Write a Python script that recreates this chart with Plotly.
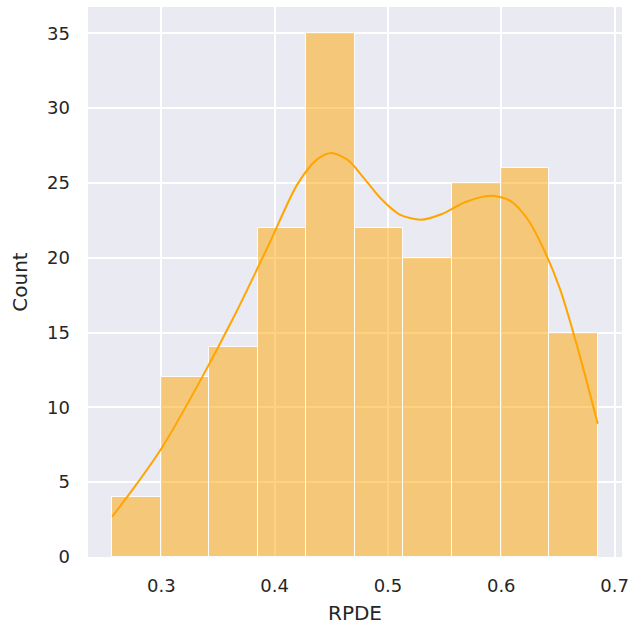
import plotly.graph_objects as go

# Histogram data (RPDE)
bin_edges = [0.2566, 0.2994, 0.3423, 0.3851, 0.4280, 0.4709, 0.5137, 0.5566, 0.5995, 0.6423, 0.6852]
counts = [4, 12, 14, 22, 35, 22, 20, 25, 26, 15]

# KDE curve (scaled to counts)
kde_x = [0.2566, 0.2770, 0.3000, 0.3330, 0.3650, 0.3950, 0.4200, 0.4380, 0.4505, 0.4650,
         0.4800, 0.4950, 0.5100, 0.5290, 0.5470, 0.5680, 0.5905, 0.6080, 0.6230, 0.6375,
         0.6520, 0.6670, 0.6852]
kde_y = [2.70, 4.75, 7.25, 11.60, 16.20, 20.90, 24.90, 26.60, 26.99, 26.50,
         25.20, 23.85, 22.90, 22.53, 22.90, 23.70, 24.13, 23.80, 22.60, 20.56,
         17.88, 14.09, 8.90]

x_ticks = [0.3, 0.4, 0.5, 0.6, 0.7]
x_ticklabels = ["0.3", "0.4", "0.5", "0.6", "0.7"]
y_ticks = [0, 5, 10, 15, 20, 25, 30, 35]

lefts = bin_edges[:-1]
widths = [b - a for a, b in zip(bin_edges[:-1], bin_edges[1:])]

fig = go.Figure()
fig.add_trace(go.Bar(
    x=lefts, y=counts, width=widths, offset=0,
    marker=dict(color="rgba(255,165,0,0.5)", line=dict(color="rgba(255,255,255,0.9)", width=1)),
    showlegend=False, hoverinfo="skip",
))
fig.add_trace(go.Scatter(
    x=kde_x, y=kde_y, mode="lines",
    line=dict(color="#FFA500", width=2, shape="spline", smoothing=0.8),
    showlegend=False, hoverinfo="skip",
))

font_family = "DejaVu Sans"
fig.update_layout(
    width=636, height=628,
    margin=dict(l=88, r=12, t=7, b=71),
    paper_bgcolor="white",
    plot_bgcolor="#EAEAF2",
    font=dict(family=font_family, color="#262626"),
    bargap=0,
)
fig.update_xaxes(
    range=[0.2352, 0.7066],
    tickvals=x_ticks, ticktext=x_ticklabels,
    showgrid=True, gridcolor="white", gridwidth=1.5,
    zeroline=False, showline=False,
    ticks="", ticklabelstandoff=16,
    tickfont=dict(size=18, color="#262626"),
    title=dict(text="RPDE", font=dict(size=20, color="#262626"), standoff=10),
)
fig.update_yaxes(
    range=[0, 36.75],
    tickvals=y_ticks,
    showgrid=True, gridcolor="white", gridwidth=1.5,
    zeroline=False, showline=False,
    ticks="", ticklabelstandoff=17,
    tickfont=dict(size=18, color="#262626"),
    title=dict(text="Count", font=dict(size=20, color="#262626"), standoff=14),
)

fig.write_html("out.html")
